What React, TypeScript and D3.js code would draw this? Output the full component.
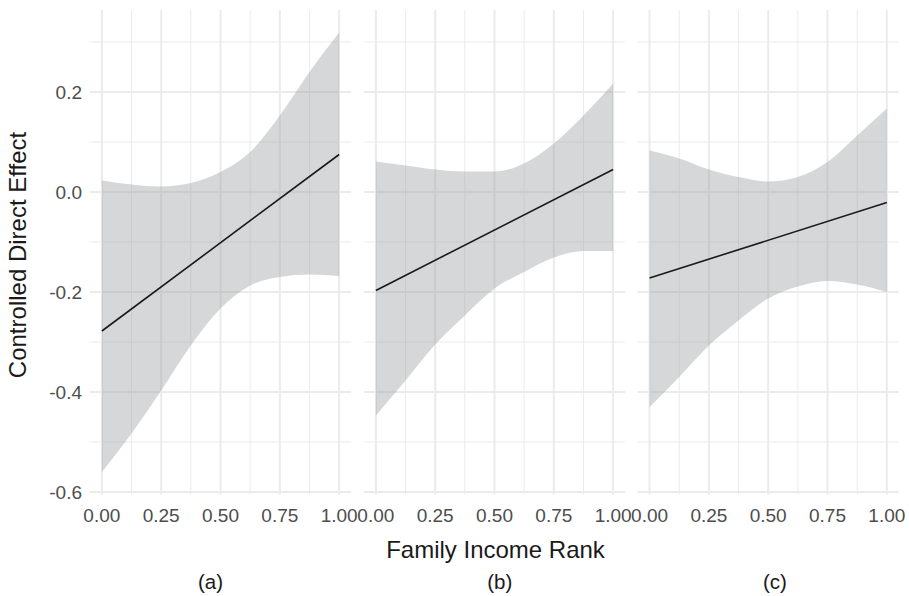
import React from 'react';
import * as d3 from 'd3';

const rankPoints = [0, 0.125, 0.25, 0.375, 0.5, 0.625, 0.75, 0.875, 1];

const panelLabels = ['(a)', '(b)', '(c)'];

// panel (a)
const upperA = [0.023, 0.015, 0.011, 0.018, 0.04, 0.08, 0.153, 0.24, 0.319];
const lowerA = [-0.56, -0.483, -0.397, -0.307, -0.233, -0.187, -0.17, -0.165, -0.168];
const fitA = [-0.278, 0.075];

// panel (b)
const upperB = [0.061, 0.053, 0.045, 0.041, 0.041, 0.057, 0.097, 0.153, 0.217];
const lowerB = [-0.447, -0.377, -0.305, -0.247, -0.193, -0.16, -0.131, -0.118, -0.118];
const fitB = [-0.197, 0.045];

// panel (c)
const upperC = [0.083, 0.067, 0.045, 0.03, 0.021, 0.03, 0.06, 0.113, 0.167];
const lowerC = [-0.43, -0.37, -0.307, -0.257, -0.213, -0.189, -0.178, -0.185, -0.2];
const fitC = [-0.172, -0.021];

const xTicks = [0, 0.25, 0.5, 0.75, 1];
const xMinor = [0.125, 0.375, 0.625, 0.875];
const yTicks = [-0.6, -0.4, -0.2, 0, 0.2];
const yMinor = [-0.5, -0.3, -0.1, 0.1, 0.3];

const W = 909;
const H = 596;
const panelLeft = [90, 364, 637.7];
const panelW = 261;
const top = 10;
const bottom = 494.5;
const font = '"Liberation Sans", Arial, Helvetica, sans-serif';

const series = [
  { upper: upperA, lower: lowerA, fit: fitA },
  { upper: upperB, lower: lowerB, fit: fitB },
  { upper: upperC, lower: lowerC, fit: fitC },
];

const yScale = d3.scaleLinear().domain([-0.605, 0.364]).range([bottom, top]);

const Panel: React.FC<{ idx: number }> = ({ idx }) => {
  const left = panelLeft[idx];
  const x = d3.scaleLinear().domain([-0.05, 1.05]).range([left, left + panelW]);
  const s = series[idx];
  const band = d3
    .area<number>()
    .x((d) => x(d))
    .y0((_, i) => yScale(s.lower[i]))
    .y1((_, i) => yScale(s.upper[i]))
    .curve(d3.curveMonotoneX);
  const line = d3
    .line<number>()
    .x((d) => x(d))
    .y((_, i) => yScale(s.fit[i]));

  return (
    <g>
      {yMinor.map((v) => (
        <line key={'ym' + v} x1={left} x2={left + panelW} y1={yScale(v)} y2={yScale(v)} stroke="#ebebeb" strokeWidth={1} />
      ))}
      {xMinor.map((v) => (
        <line key={'xm' + v} x1={x(v)} x2={x(v)} y1={top} y2={bottom} stroke="#ebebeb" strokeWidth={1} />
      ))}
      {yTicks.map((v) => (
        <line key={'y' + v} x1={left} x2={left + panelW} y1={yScale(v)} y2={yScale(v)} stroke="#ebebeb" strokeWidth={2} />
      ))}
      {xTicks.map((v) => (
        <line key={'x' + v} x1={x(v)} x2={x(v)} y1={top} y2={bottom} stroke="#ebebeb" strokeWidth={2} />
      ))}
      <path d={band(rankPoints) || ''} fill="#999ba0" fillOpacity={0.4} />
      <path d={line([0, 1]) || ''} fill="none" stroke="#1a1a1a" strokeWidth={1.6} />
      {xTicks.map((v) => (
        <text key={'xl' + v} x={x(v)} y={522} textAnchor="middle" fontSize={19} fill="#4d4d4d">
          {d3.format('.2f')(v)}
        </text>
      ))}
    </g>
  );
};

const App: React.FC = () => {
  const labelX = [210.5, 499.7, 775];
  return (
    <div style={{ position: 'absolute', left: 0, top: 0 }}>
      <svg width={W} height={H} style={{ display: 'block', background: '#fff', fontFamily: font }}>
        {[0, 1, 2].map((i) => (
          <Panel key={i} idx={i} />
        ))}
        {yTicks.map((v) => (
          <text key={'yl' + v} x={82} y={yScale(v)} dy="0.36em" textAnchor="end" fontSize={19} fill="#4d4d4d">
            {v.toFixed(1)}
          </text>
        ))}
        <text transform="translate(26,255) rotate(-90)" textAnchor="middle" fontSize={24} fill="#1a1a1a">
          Controlled Direct Effect
        </text>
        <text x={495.5} y={557.5} textAnchor="middle" fontSize={24} fill="#1a1a1a">
          Family Income Rank
        </text>
        {panelLabels.map((l, i) => (
          <text key={l} x={labelX[i]} y={589} textAnchor="middle" fontSize={20.5} fill="#1a1a1a">
            {l}
          </text>
        ))}
      </svg>
    </div>
  );
};

export default App;
